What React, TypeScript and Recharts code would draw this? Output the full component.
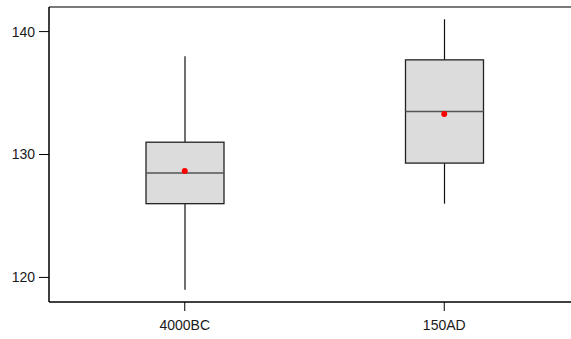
import { Bar, ComposedChart, ReferenceLine, Scatter, XAxis, YAxis } from "recharts";

const periods = ["4000BC", "150AD"];
const lowWhisker = [119, 126];
const firstQuartile = [126, 129.3];
const medians = [128.5, 133.5];
const thirdQuartile = [131, 137.7];
const highWhisker = [138, 141];
const means = [128.65, 133.3];
const yTicks = [120, 130, 140];

const data = periods.map((name, i) => ({
  name,
  box: [firstQuartile[i], thirdQuartile[i]],
  low: lowWhisker[i],
  q1: firstQuartile[i],
  median: medians[i],
  q3: thirdQuartile[i],
  high: highWhisker[i],
  mean: means[i],
}));

const font = { fontFamily: "Liberation Sans, Arial, sans-serif", fontSize: 14, fill: "#1a1a1a" };

function BoxShape(props: any) {
  const { x, y, width, height, payload } = props;
  const k = height / (payload.q3 - payload.q1);
  const yOf = (v: number) => y + (payload.q3 - v) * k;
  const cx = x + width / 2;
  return (
    <g>
      <line x1={cx} x2={cx} y1={yOf(payload.high)} y2={yOf(payload.q3)} stroke="#111" strokeWidth={1.2} />
      <line x1={cx} x2={cx} y1={yOf(payload.q1)} y2={yOf(payload.low)} stroke="#111" strokeWidth={1.2} />
      <rect x={x} y={y} width={width} height={height} fill="#dcdcdc" stroke="#222" strokeWidth={1.3} />
      <line x1={x} x2={x + width} y1={yOf(payload.median)} y2={yOf(payload.median)} stroke="#555" strokeWidth={1.6} />
    </g>
  );
}

function MeanDot(props: any) {
  const { cx, cy } = props;
  return <circle cx={cx} cy={cy} r={3} fill="#ff0000" />;
}

export default function App() {
  return (
    <div style={{ position: "absolute", left: 0, top: 0, width: 571, height: 339, overflow: "hidden", background: "#fff" }}>
      <ComposedChart width={585} height={339} data={data} margin={{ top: 7, right: 5, bottom: 0, left: 0 }}>
        <XAxis
          dataKey="name"
          height={37}
          padding={{ left: 6, right: 6 }}
          tick={font}
          tickSize={9}
          tickMargin={9}
          axisLine={{ stroke: "#000", strokeWidth: 1.5 }}
          tickLine={{ stroke: "#000" }}
        />
        <YAxis
          domain={[118, 142]}
          ticks={yTicks}
          width={49}
          tick={font}
          tickSize={10}
          tickMargin={4}
          axisLine={{ stroke: "#000", strokeWidth: 1.5 }}
          tickLine={{ stroke: "#000" }}
          allowDataOverflow
        />
        <ReferenceLine y={142} stroke="#7a7a7a" strokeWidth={2} />
        <Bar dataKey="box" barSize={78} shape={<BoxShape />} isAnimationActive={false} />
        <Scatter dataKey="mean" shape={<MeanDot />} isAnimationActive={false} />
      </ComposedChart>
    </div>
  );
}
